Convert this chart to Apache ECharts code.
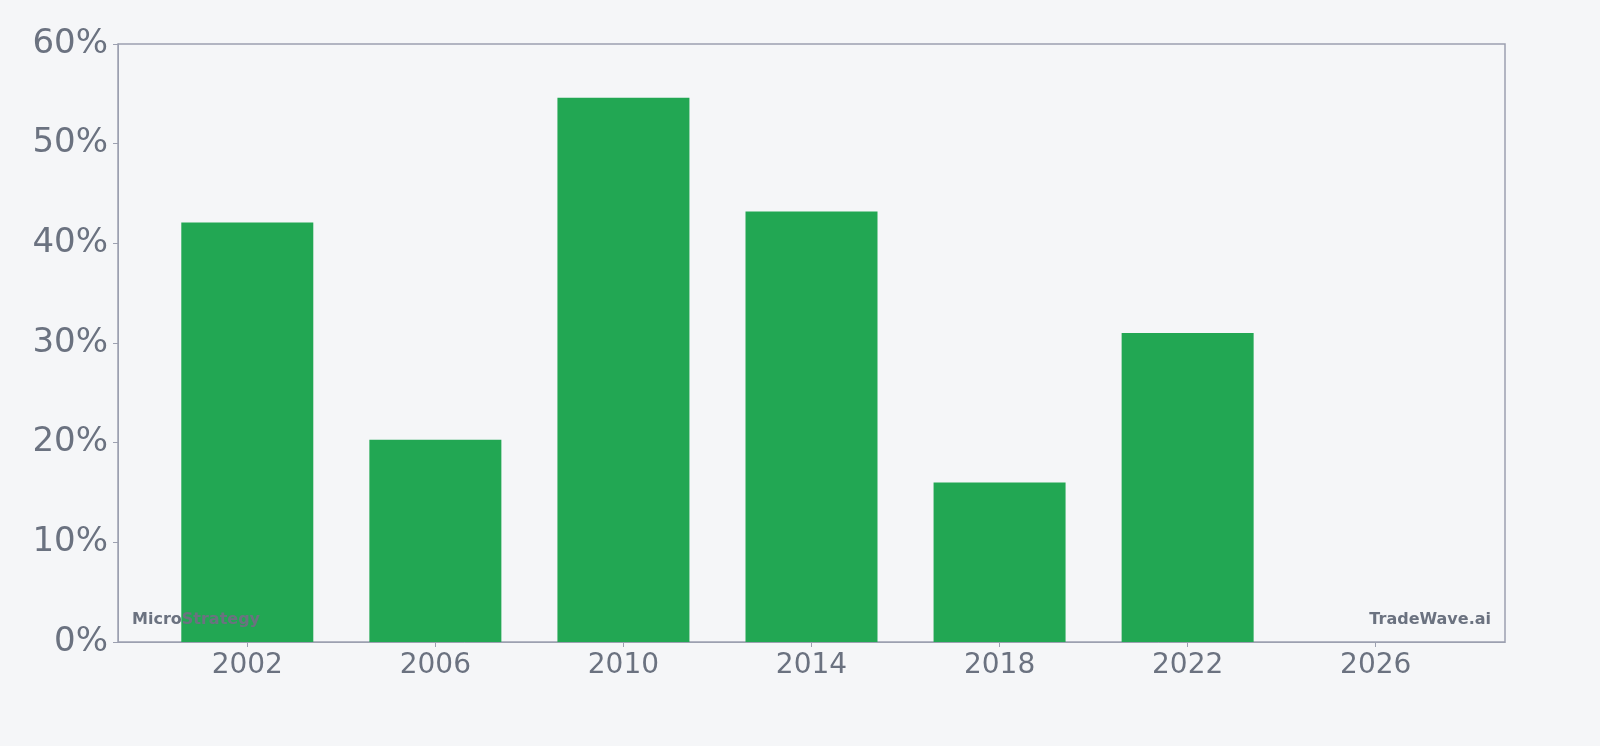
<!DOCTYPE html>
<html>
<head>
<meta charset="utf-8" />
<title>MicroStrategy</title>
<style>
  html, body { margin: 0; padding: 0; background: #f5f6f8; }
  #chart { width: 1600px; height: 746px; }
</style>
</head>
<body>
<div id="chart"></div>
<script src="https://cdn.jsdelivr.net/npm/echarts@6/dist/echarts.min.js"></script>
<script>
  var years = [2002, 2006, 2010, 2014, 2018, 2022];
  var values = [42.1, 20.3, 54.6, 43.2, 16.0, 31.0];
  var xTicks = [2002, 2006, 2010, 2014, 2018, 2022, 2026];

  var pts = [];
  for (var i = 0; i < years.length; i++) pts.push([years[i], values[i]]);

  var chart = echarts.init(document.getElementById('chart'));
  chart.setOption({
    backgroundColor: '#f5f6f8',
    animation: false,
    grid: { left: 118, right: 95, top: 44, bottom: 104, show: true, borderColor: '#9ca0b0', borderWidth: 1.5 },
    xAxis: {
      type: 'value', min: 1999.25, max: 2028.75,
      splitLine: { show: false },
      axisLine: { show: true, lineStyle: { color: '#9ca0b0' } },
      axisTick: { show: true, customValues: xTicks, lineStyle: { color: '#9ca0b0' } },
      axisLabel: { customValues: xTicks, formatter: function (v) { return String(v); }, color: '#6b7280', fontSize: 28, margin: 10, fontFamily: 'DejaVu Sans' }
    },
    yAxis: {
      type: 'value', min: 0, max: 60, interval: 10,
      splitLine: { show: false },
      axisLine: { show: true, lineStyle: { color: '#9ca0b0' } },
      axisTick: { show: true, lineStyle: { color: '#9ca0b0' } },
      axisLabel: { formatter: '{value}%', color: '#6b7280', fontSize: 34, margin: 10, fontFamily: 'DejaVu Sans' }
    },
    series: [{
      type: 'bar', data: pts, barWidth: 132, z: 2,
      itemStyle: { color: '#22a753' }
    }],
    graphic: [
      { type: 'text', z: 100, left: 132, top: 612, style: { text: 'MicroStrategy', fill: '#6b7280', font: 'bold 16px DejaVu Sans' } },
      { type: 'text', z: 100, right: 109, top: 612, style: { text: 'TradeWave.ai', fill: '#6b7280', font: 'bold 16px DejaVu Sans' } }
    ]
  });
</script>
</body>
</html>
